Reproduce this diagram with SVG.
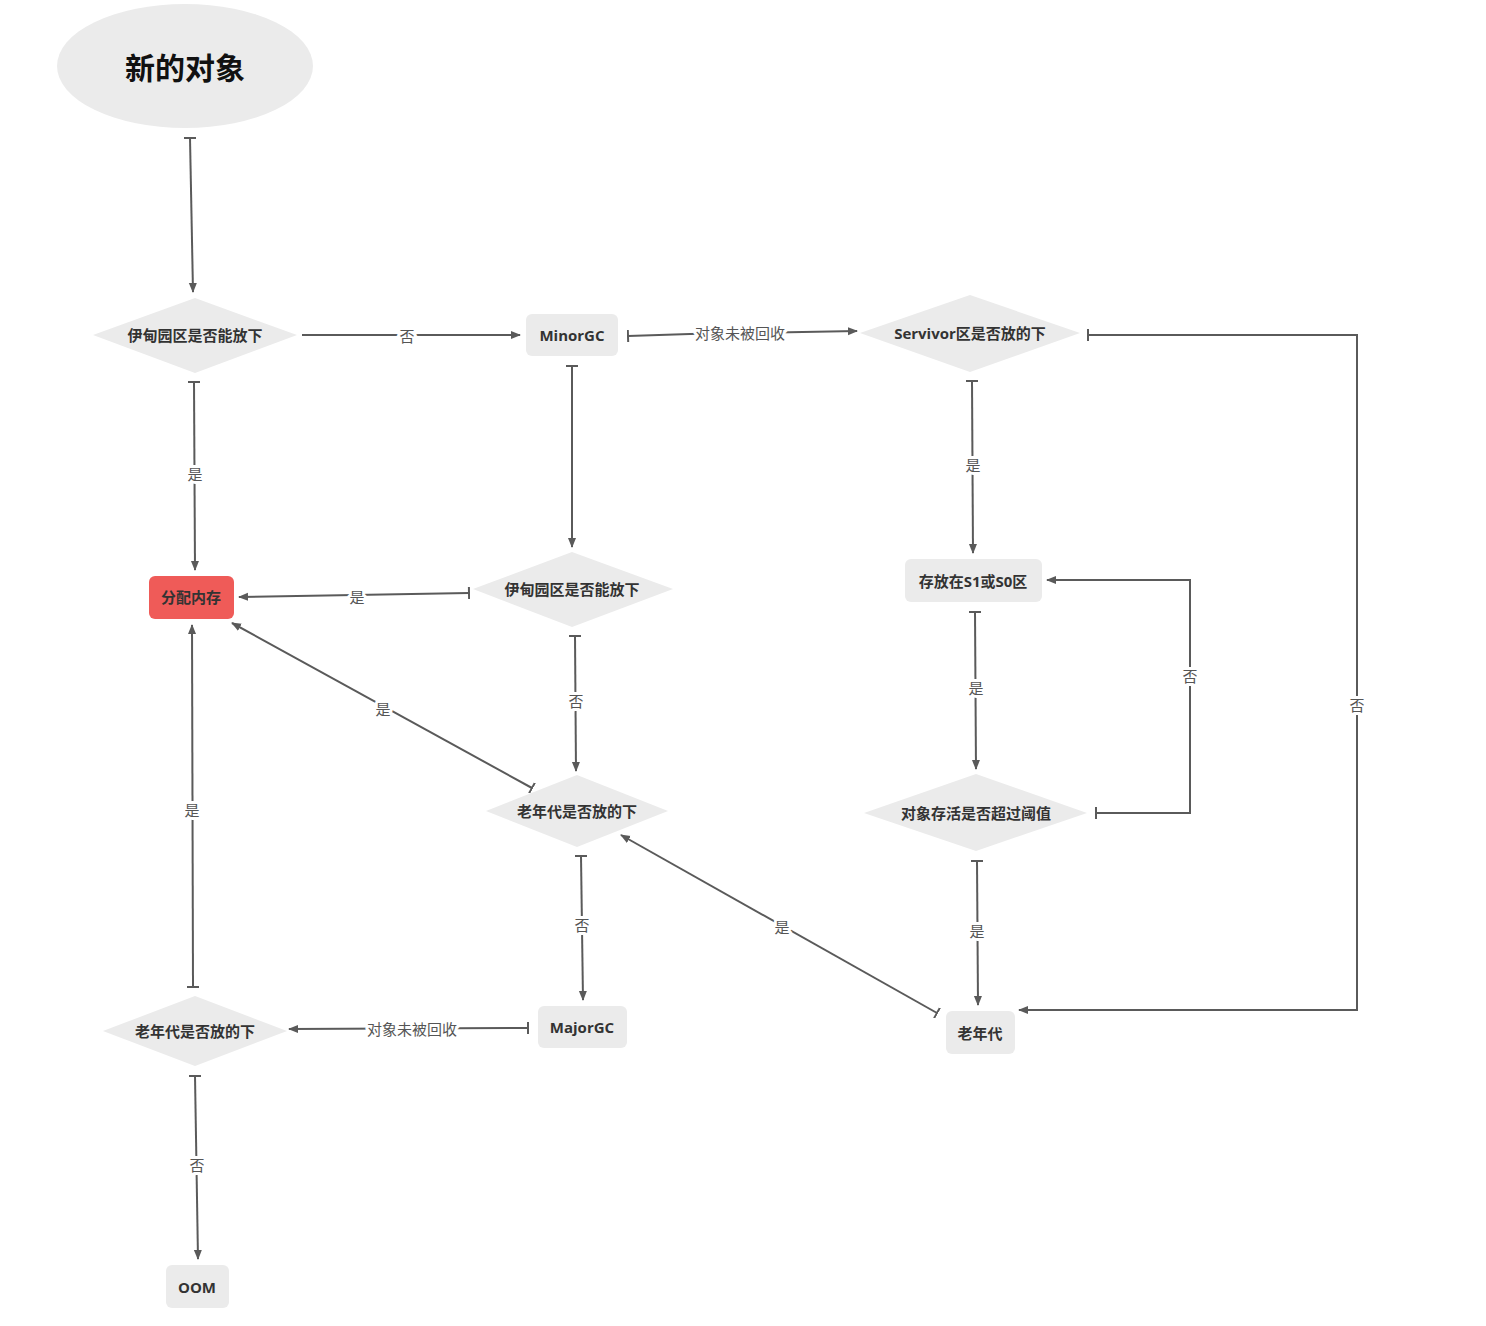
<svg xmlns="http://www.w3.org/2000/svg" width="1486" height="1326" viewBox="0 0 1486 1326">
<style>
.node{fill:#ebebeb}
.red{fill:#ef5b58}
.t{font-family:"Open Sans","Noto Sans CJK SC",sans-serif;font-size:15px;font-weight:700;fill:#333;text-anchor:middle;dominant-baseline:central}
.big{font-family:"Noto Sans CJK SC",sans-serif;font-size:30px;font-weight:700;fill:#111;text-anchor:middle;dominant-baseline:central}
.c{fill:none;stroke:#5a5a5a;stroke-width:2;marker-start:url(#tee);marker-end:url(#arr)}
.c0{fill:none;stroke:#5a5a5a;stroke-width:2;marker-end:url(#arr)}
.l{font-family:"Noto Sans CJK SC",sans-serif;font-size:15px;fill:#555;text-anchor:middle;dominant-baseline:central;stroke:#fff;stroke-width:6;paint-order:stroke;stroke-linejoin:round}
</style>
<defs>
<marker id="arr" viewBox="0 0 10 10" refX="9" refY="5" markerWidth="10" markerHeight="10" markerUnits="userSpaceOnUse" orient="auto">
<path d="M0,1 L10,5 L0,9 Z" fill="#5a5a5a"/>
</marker>
<marker id="tee" viewBox="0 0 4 12" refX="1" refY="6" markerWidth="4" markerHeight="12" markerUnits="userSpaceOnUse" orient="auto">
<path d="M1,0 L1,12" stroke="#5a5a5a" stroke-width="2"/>
</marker>
</defs>
<rect width="1486" height="1326" fill="#fff"/>
<g id="connectors">
<path class="c" d="M190,138 L193,292"/>
<path class="c0" d="M302,335 L520,335"/>
<path class="c" d="M628,336 L690,334 L857,331"/>
<path class="c" d="M1088,335 L1357,335 L1357,1010 L1019,1010"/>
<path class="c" d="M194,382 L195,570"/>
<path class="c" d="M572,366 L572,547"/>
<path class="c" d="M469,593 L239,597"/>
<path class="c" d="M972,381 L973,553"/>
<path class="c" d="M575,636 L576,771"/>
<path class="c" d="M532,788 L232,623"/>
<path class="c" d="M975,612 L976,769"/>
<path class="c" d="M1096,813 L1190,813 L1190,580 L1047,580"/>
<path class="c" d="M581,856 L583,1000"/>
<path class="c" d="M977,861 L978,1005"/>
<path class="c" d="M937,1013 L621,835"/>
<path class="c" d="M528,1028 L289,1029"/>
<path class="c" d="M193,987 L192,625"/>
<path class="c" d="M195,1076 L198,1259"/>
<text class="l" x="407" y="335">否</text>
<text class="l" x="740" y="332">对象未被回收</text>
<text class="l" x="1357" y="704">否</text>
<text class="l" x="195" y="473">是</text>
<text class="l" x="357" y="596">是</text>
<text class="l" x="973" y="464">是</text>
<text class="l" x="576" y="700">否</text>
<text class="l" x="383" y="708">是</text>
<text class="l" x="976" y="687">是</text>
<text class="l" x="1190" y="675">否</text>
<text class="l" x="582" y="924">否</text>
<text class="l" x="977" y="930">是</text>
<text class="l" x="782" y="926">是</text>
<text class="l" x="412" y="1028">对象未被回收</text>
<text class="l" x="192" y="809">是</text>
<text class="l" x="197" y="1164">否</text>
</g>
<g id="n-start"><ellipse class="node" cx="185" cy="66" rx="128" ry="62"/><text class="big" x="185" y="66">新的对象</text></g>
<g id="n-eden1"><polygon class="node" points="93,335 195,298 297,335 195,373"/><text class="t" x="195" y="335">伊甸园区是否能放下</text></g>
<g id="n-minorgc"><rect class="node" x="526" y="314" width="92" height="42" rx="6"/><text class="t" x="572" y="335">MinorGC</text></g>
<g id="n-servivor"><polygon class="node" points="860,333 970,295 1080,333 970,372"/><text class="t" x="970" y="333">Servivor区是否放的下</text></g>
<g id="n-alloc"><rect class="red" x="149" y="576" width="85" height="43" rx="6"/><text class="t" x="191" y="597">分配内存</text></g>
<g id="n-eden2"><polygon class="node" points="473,589 572,552 673,589 572,627"/><text class="t" x="572" y="589">伊甸园区是否能放下</text></g>
<g id="n-s1s0"><rect class="node" x="905" y="559" width="137" height="43" rx="6"/><text class="t" x="973" y="581">存放在S1或S0区</text></g>
<g id="n-old1"><polygon class="node" points="486,811 577,775 668,811 577,847"/><text class="t" x="577" y="811">老年代是否放的下</text></g>
<g id="n-threshold"><polygon class="node" points="864,813 976,774 1087,813 976,851"/><text class="t" x="976" y="813">对象存活是否超过阈值</text></g>
<g id="n-old2"><polygon class="node" points="103,1031 195,996 287,1031 195,1066"/><text class="t" x="195" y="1031">老年代是否放的下</text></g>
<g id="n-majorgc"><rect class="node" x="538" y="1006" width="89" height="42" rx="6"/><text class="t" x="582" y="1027">MajorGC</text></g>
<g id="n-oldgen"><rect class="node" x="946" y="1011" width="69" height="43" rx="6"/><text class="t" x="980" y="1033">老年代</text></g>
<g id="n-oom"><rect class="node" x="166" y="1265" width="63" height="43" rx="6"/><text class="t" x="197" y="1287">OOM</text></g>
</svg>
